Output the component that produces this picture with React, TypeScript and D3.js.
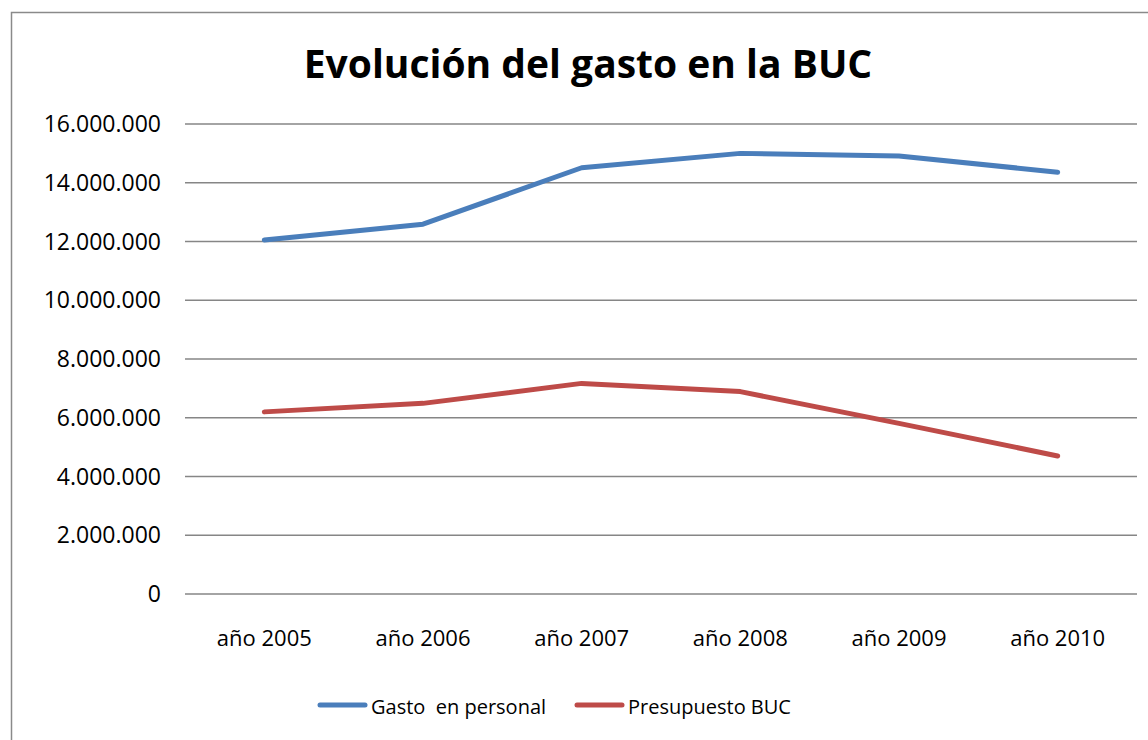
import React from 'react';
import * as d3 from 'd3';

const years = ['año 2005', 'año 2006', 'año 2007', 'año 2008', 'año 2009', 'año 2010'];
const gastoPersonal = [12050000, 12590000, 14510000, 15000000, 14910000, 14360000];
const presupuestoBUC = [6200000, 6490000, 7170000, 6890000, 5810000, 4700000];
const yTicks = [0, 2000000, 4000000, 6000000, 8000000, 10000000, 12000000, 14000000, 16000000];

const series = [
  { name: 'Gasto  en personal', values: gastoPersonal, color: '#4a7ebb' },
  { name: 'Presupuesto BUC', values: presupuestoBUC, color: '#be4b48' },
];

const width = 1148;
const height = 740;
const font = '"Open Sans", sans-serif';

const fmt = (v: number) => d3.format(',')(v).replace(/,/g, '.');

export default function App() {
  const x = d3.scalePoint().domain(years).range([185, 1137]).padding(0.5);
  const y = d3.scaleLinear().domain([0, 16000000]).range([594, 124]);

  const line = d3
    .line<number>()
    .x((d, i) => x(years[i]) as number)
    .y((d) => y(d));

  return (
    <svg
      width={width}
      height={height}
      style={{ position: 'absolute', left: 0, top: 0, background: '#fff' }}
      fontFamily={font}
    >
      <rect x={11.5} y={12.5} width={1160} height={760} fill="#fff" stroke="#8a8a8a" strokeWidth={1.5} />

      <text x={588} y={78} textAnchor="middle" fontSize={39} fontWeight="bold" fill="#000">
        Evolución del gasto en la BUC
      </text>

      {/* grid + y labels */}
      {yTicks.map((t) => (
        <g key={t}>
          <line x1={185} x2={1137} y1={y(t)} y2={y(t)} stroke="#868686" strokeWidth={1.5} />
          <text x={161} y={y(t) + 8} textAnchor="end" fontSize={23} fill="#000">
            {fmt(t)}
          </text>
        </g>
      ))}

      {/* x labels */}
      {years.map((yr) => (
        <text key={yr} x={x(yr)} y={646} textAnchor="middle" fontSize={22} fill="#000">
          {yr}
        </text>
      ))}

      {/* lines */}
      {series.map((s) => (
        <path
          key={s.name}
          d={line(s.values) || ''}
          fill="none"
          stroke={s.color}
          strokeWidth={5}
          strokeLinecap="round"
          strokeLinejoin="round"
        />
      ))}

      {/* legend */}
      {series.map((s, i) => {
        const lx = i === 0 ? 320 : 577;
        return (
          <g key={s.name} transform={`translate(${lx},705)`}>
            <line x1={0} x2={45} y1={0} y2={0} stroke={s.color} strokeWidth={5} strokeLinecap="round" />
            <text x={51} y={9} fontSize={20} fill="#000" style={{ whiteSpace: 'pre' }}>
              {s.name}
            </text>
          </g>
        );
      })}
    </svg>
  );
}
